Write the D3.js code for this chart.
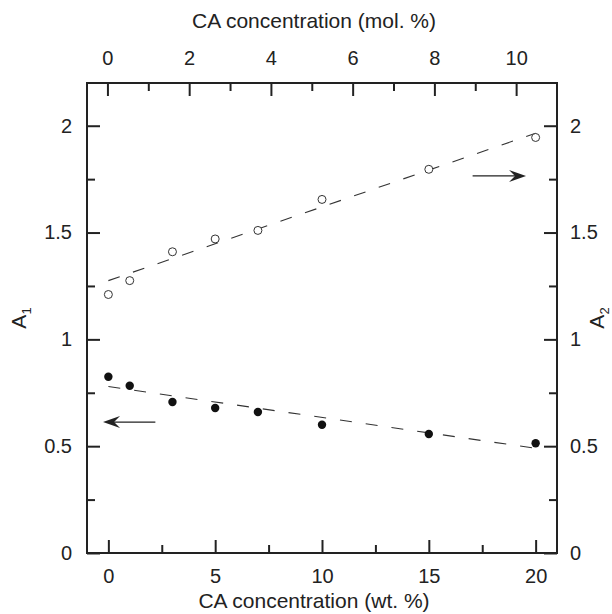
<!DOCTYPE html>
<html><head><meta charset="utf-8">
<script src="https://cdn.jsdelivr.net/npm/d3@7"></script>
<style>body{margin:0;background:#fff}svg{display:block}</style>
</head><body>
<script>
// ---- data ----
const wt = [0, 1, 3, 5, 7, 10, 15, 20];
const a1 = [0.825, 0.783, 0.707, 0.679, 0.660, 0.600, 0.557, 0.514];
const a2 = [1.21, 1.275, 1.41, 1.47, 1.51, 1.655, 1.796, 1.945];
const fitX = [0, 20];
const fitA1 = [0.779, 0.490];
const fitA2 = [1.275, 1.965];
const wtTicks = [0, 5, 10, 15, 20];
const wtMinor = [2.5, 7.5, 12.5, 17.5];
const molTicks = [0, 2, 4, 6, 8, 10];
const molMinor = [1, 3, 5, 7, 9];
const yTicks = [0, 0.5, 1, 1.5, 2];
const yMinor = [0.25, 0.75, 1.25, 1.75];
const xTitle = "CA concentration (wt. %)";
const topTitle = "CA concentration (mol. %)";

const W = 612, H = 614;
const L = 87, R = 557, T = 83, B = 553;
const font = "'Liberation Sans', Arial, Helvetica, sans-serif";
const ink = "#222";

const svg = d3.select("body").append("svg").attr("width", W).attr("height", H)
  .style("font-family", font);

const x = d3.scaleLinear().domain([-1, 21]).range([L, R]);
const xm = d3.scaleLinear().domain([-0.5, 11]).range([L, R]);
const y = d3.scaleLinear().domain([0, 2.2]).range([B, T]);

function styleAxis(g) {
  g.select(".domain").remove();
  g.selectAll("line").attr("stroke", ink).attr("stroke-width", 2);
  g.selectAll("text").attr("fill", ink).style("font-size", "20px").style("font-family", font);
}
const fmt = d3.format("~g");

// major axes
svg.append("g").attr("transform", `translate(0,${B})`)
  .call(d3.axisBottom(x).tickValues(wtTicks).tickSize(-13).tickPadding(16).tickFormat(fmt)).call(styleAxis);
svg.append("g").attr("transform", `translate(0,${T})`)
  .call(d3.axisTop(xm).tickValues(molTicks).tickSize(-13).tickPadding(18).tickFormat(fmt)).call(styleAxis);
svg.append("g").attr("transform", `translate(${L},0)`)
  .call(d3.axisLeft(y).tickValues(yTicks).tickSize(-13).tickPadding(15).tickFormat(fmt)).call(styleAxis);
svg.append("g").attr("transform", `translate(${R},0)`)
  .call(d3.axisRight(y).tickValues(yTicks).tickSize(-13).tickPadding(13).tickFormat(fmt)).call(styleAxis);
// minor axes
svg.append("g").attr("transform", `translate(0,${B})`)
  .call(d3.axisBottom(x).tickValues(wtMinor).tickSize(-8).tickFormat("")).call(styleAxis);
svg.append("g").attr("transform", `translate(0,${T})`)
  .call(d3.axisTop(xm).tickValues(molMinor).tickSize(-8).tickFormat("")).call(styleAxis);
svg.append("g").attr("transform", `translate(${L},0)`)
  .call(d3.axisLeft(y).tickValues(yMinor).tickSize(-8).tickFormat("")).call(styleAxis);
svg.append("g").attr("transform", `translate(${R},0)`)
  .call(d3.axisRight(y).tickValues(yMinor).tickSize(-8).tickFormat("")).call(styleAxis);

// frame
svg.append("rect").attr("x", L).attr("y", T).attr("width", R - L).attr("height", B - T)
  .attr("fill", "none").attr("stroke", ink).attr("stroke-width", 2);

// fit lines
const line = d3.line().x(d => x(d[0])).y(d => y(d[1]));
[fitA1, fitA2].forEach(f => {
  svg.append("path").datum(fitX.map((v, i) => [v, f[i]])).attr("d", line)
    .attr("fill", "none").attr("stroke", "#333").attr("stroke-width", 1.1)
    .attr("stroke-dasharray", "12,14");
});

// points
svg.append("g").selectAll("circle").data(wt.map((v, i) => [v, a1[i]])).join("circle")
  .attr("cx", d => x(d[0])).attr("cy", d => y(d[1])).attr("r", 4.2).attr("fill", "#111");
svg.append("g").selectAll("circle").data(wt.map((v, i) => [v, a2[i]])).join("circle")
  .attr("cx", d => x(d[0])).attr("cy", d => y(d[1])).attr("r", 4).attr("fill", "#fff")
  .attr("stroke", "#333").attr("stroke-width", 1);

// arrows
function arrow(x0, x1, yy) {
  const px0 = x(x0), px1 = x(x1), py = y(yy);
  const dir = Math.sign(px1 - px0);
  svg.append("line").attr("x1", px0).attr("x2", px1 - dir * 4).attr("y1", py).attr("y2", py)
    .attr("stroke", ink).attr("stroke-width", 1.3);
  const hx = px1, bx = px1 - dir * 17, mx = px1 - dir * 11;
  svg.append("path").attr("d", `M${hx},${py} L${bx},${py - 6} L${mx},${py} L${bx},${py + 6} Z`)
    .attr("fill", ink);
}
arrow(2.2, -0.25, 0.613);
arrow(17.05, 19.55, 1.765);

// titles
svg.append("text").attr("x", 314).attr("y", 608).attr("text-anchor", "middle")
  .style("font-size", "21px").attr("fill", ink).text(xTitle);
svg.append("text").attr("x", 314).attr("y", 28).attr("text-anchor", "middle")
  .style("font-size", "21px").attr("fill", ink).text(topTitle);

function yTitle(cx, sub) {
  const t = svg.append("text").attr("transform", `translate(${cx},${(T + B) / 2}) rotate(-90)`)
    .attr("text-anchor", "middle").style("font-size", "21px").attr("fill", ink);
  t.append("tspan").text("A");
  t.append("tspan").attr("dy", 5).style("font-size", "13px").text(sub);
}
yTitle(26, "1");
yTitle(604, "2");
</script>
</body></html>
